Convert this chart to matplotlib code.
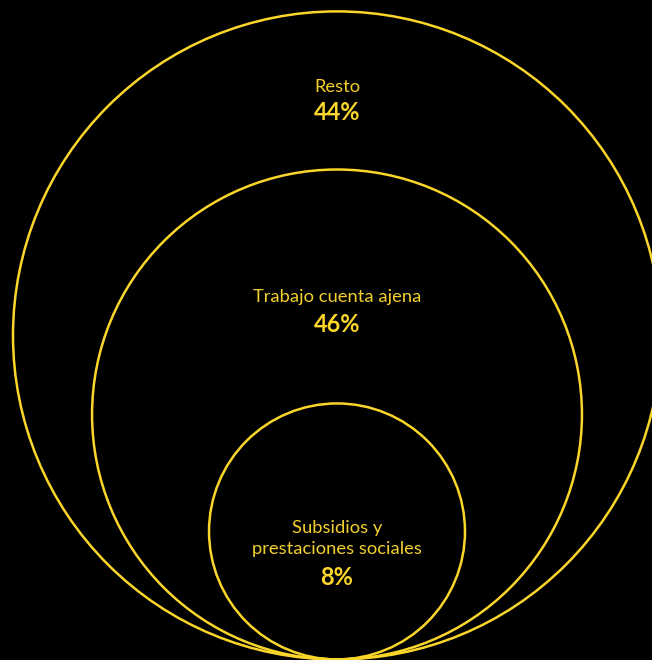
import matplotlib as mpl
mpl.use("Agg")
import matplotlib.pyplot as plt
from matplotlib.patches import Circle

# data (outer to inner)
labels = ["Resto", "Trabajo cuenta ajena", "Subsidios y\nprestaciones sociales"]
shares = [44, 46, 8]
radii = [1.0, 0.756, 0.395]   # circle radius relative to outer circle

yellow = "#FAD52A"
text_yellow = "#F2CF2C"

plt.rcParams["font.family"] = ["Lato", "DejaVu Sans"]

fig = plt.figure(figsize=(6.52, 6.60), dpi=100, facecolor="black")
ax = fig.add_axes([0, 0, 1, 1])
ax.set_facecolor("black")

# 1 data unit = 324 px, tangent point at (0, 0)
scale = 324.0
ax.set_xlim(-337 / scale, 315 / scale)
ax.set_ylim(-0.6 / scale, 659.4 / scale)
ax.set_aspect("equal")
ax.axis("off")

for r in radii:
    ax.add_patch(Circle((0, r), r, fill=False, edgecolor=yellow, lw=1.8))

# label positions (y of name line, y of percent line), in px from top
label_px = [(88, 113), (298, 325), (539, 578)]
for lab, val, (ly, py) in zip(labels, shares, label_px):
    ax.text(0, (660 - ly) / scale, lab, ha="center", va="center",
            color=text_yellow, fontsize=13.2, linespacing=1.4)
    ax.text(0, (660 - py) / scale, f"{val}%", ha="center", va="center",
            color=yellow, fontsize=17, fontweight="bold")

fig.savefig("out.png", dpi=100, facecolor="black")
